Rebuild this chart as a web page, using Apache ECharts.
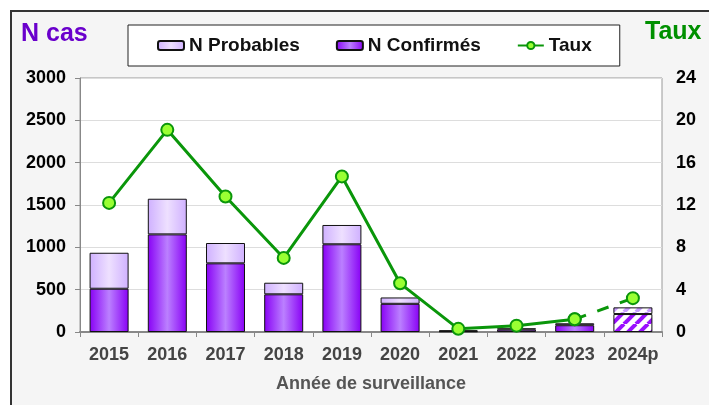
<!DOCTYPE html>
<html>
<head>
<meta charset="utf-8">
<script src="https://cdn.jsdelivr.net/npm/echarts@6/dist/echarts.min.js"></script>
<style>
  html, body { margin: 0; padding: 0; background: #fff; }
  #chart { width: 709px; height: 405px; }
</style>
</head>
<body>
<div id="chart"></div>
<script>
// données
var annees = ['2015', '2016', '2017', '2018', '2019', '2020', '2021', '2022', '2023', '2024p'];
var nConfirmes = [511, 1153, 811, 445, 1036, 333, 8, 28, 80, 212];
var nProbables = [425, 421, 240, 137, 228, 75, 12, 16, 23, 79];
var taux = [12.2, 19.1, 12.8, 7.0, 14.7, 4.6, 0.3, 0.6, 1.2, 3.2];
var ticksGauche = [0, 500, 1000, 1500, 2000, 2500, 3000];
var ticksDroite = [0, 4, 8, 12, 16, 20, 24];

var FONT = '"Liberation Sans", Arial, sans-serif';

// motif hachuré pour l'année provisoire
var hachures = function(couleur){
  var c = document.createElement('canvas');
  c.width = 12;
  c.height = 12;
  var ctx = c.getContext('2d');
  ctx.fillStyle = '#fff';
  ctx.fillRect(0, 0, 12, 12);
  ctx.strokeStyle = couleur;
  ctx.lineWidth = 4;
  for (var k = -12; k <= 12; k += 12) {
    ctx.beginPath();
    ctx.moveTo(k, 12);
    ctx.lineTo(k + 12, 0);
    ctx.stroke();
  }
  return { image: c, repeat: 'repeat' };
};

var gradConf = new echarts.graphic.LinearGradient(0, 0, 1, 0, [
  { offset: 0, color: '#8800f5' },
  { offset: 0.5, color: '#bb80ff' },
  { offset: 1, color: '#8800f5' }
]);
var gradProb = new echarts.graphic.LinearGradient(0, 0, 1, 0, [
  { offset: 0, color: '#cfb0ff' },
  { offset: 0.5, color: '#eee0ff' },
  { offset: 1, color: '#cfb0ff' }
]);

var last = annees.length - 1;
var dataConf = nConfirmes.map(function(v, i){
  if (i === last) return { value: v, itemStyle: { color: hachures('#9a10ff') } };
  return v;
});
var dataProb = nProbables.map(function(v, i){
  if (i === last) return { value: v, itemStyle: { color: hachures('#c89cff') } };
  return v;
});
var tauxPlein = taux.map(function(v, i){ return i === last ? null : v; });
var tauxPointille = taux.map(function(v, i){ return i >= last - 1 ? v : null; });

var myChart = echarts.init(document.getElementById('chart'));
var option = {
  backgroundColor: '#fff',
  animation: false,
  textStyle: { fontFamily: FONT },
  graphic: [
    {
      type: 'rect', z: -1, silent: true,
      shape: { x: 11, y: 11, width: 720, height: 420 },
      style: { fill: '#f5f5f5', stroke: '#333', lineWidth: 2 }
    },
    {
      type: 'text', left: 21, top: 22,
      style: { text: 'N cas', fill: '#6a00cc', font: 'bold 25px ' + FONT }
    },
    {
      type: 'text', left: 645, top: 20,
      style: { text: 'Taux', fill: '#009000', font: 'bold 25px ' + FONT }
    }
  ],
  legend: {
    left: 128,
    top: 25,
    padding: [11, 28, 11, 29],
    itemGap: 36,
    itemWidth: 26,
    itemHeight: 9,
    backgroundColor: '#fff',
    borderColor: '#222',
    borderWidth: 1,
    borderRadius: 0,
    textStyle: { fontSize: 19, fontWeight: 'bold', color: '#111', fontFamily: FONT },
    data: ['N Probables', 'N Confirmés', 'Taux']
  },
  grid: {
    left: 80,
    right: 47,
    top: 78,
    bottom: 73,
    show: true,
    backgroundColor: '#fff',
    borderColor: '#999',
    borderWidth: 1
  },
  xAxis: {
    type: 'category',
    data: annees,
    name: 'Année de surveillance',
    nameLocation: 'middle',
    nameGap: 43,
    nameTextStyle: { fontSize: 18, fontWeight: 'bold', color: '#555', fontFamily: FONT },
    axisLine: { lineStyle: { color: '#888', width: 2 } },
    axisTick: { show: true, length: 5, lineStyle: { color: '#888' } },
    axisLabel: { interval: 0, fontSize: 18, fontWeight: 'bold', color: '#444', margin: 14 }
  },
  yAxis: [
    {
      type: 'value',
      min: ticksGauche[0],
      max: ticksGauche[ticksGauche.length - 1],
      interval: 500,
      axisLine: { show: true, lineStyle: { color: '#888' } },
      axisTick: { show: true, length: 5, lineStyle: { color: '#888' } },
      splitLine: { lineStyle: { color: '#ddd' } },
      axisLabel: {
        fontSize: 18, fontWeight: 'bold', color: '#000', margin: 14,
        formatter: function(v){ return String(v); }
      }
    },
    {
      type: 'value',
      min: ticksDroite[0],
      max: ticksDroite[ticksDroite.length - 1],
      interval: 4,
      axisLine: { show: false },
      axisTick: { show: false },
      splitLine: { show: false },
      axisLabel: { fontSize: 18, fontWeight: 'bold', color: '#000', margin: 14 }
    }
  ],
  series: [
    {
      name: 'N Confirmés',
      type: 'bar',
      stack: 'cas',
      barWidth: 39,
      itemStyle: { color: gradConf, borderColor: '#111', borderWidth: 1 },
      data: dataConf
    },
    {
      name: 'N Probables',
      type: 'bar',
      stack: 'cas',
      barWidth: 39,
      itemStyle: { color: gradProb, borderColor: '#111', borderWidth: 1 },
      data: dataProb
    },
    {
      name: 'Taux',
      type: 'line',
      yAxisIndex: 1,
      symbol: 'circle',
      symbolSize: 12,
      lineStyle: { color: '#0a960a', width: 3 },
      itemStyle: { color: '#99ff33', borderColor: '#0a960a', borderWidth: 2 },
      z: 5,
      data: tauxPlein
    },
    {
      name: 'Taux',
      type: 'line',
      yAxisIndex: 1,
      symbol: 'circle',
      symbolSize: 12,
      lineStyle: { color: '#0a960a', width: 3, type: [12, 12] },
      itemStyle: { color: '#99ff33', borderColor: '#0a960a', borderWidth: 2 },
      z: 5,
      data: tauxPointille
    }
  ]
};
myChart.setOption(option);
</script>
</body>
</html>
